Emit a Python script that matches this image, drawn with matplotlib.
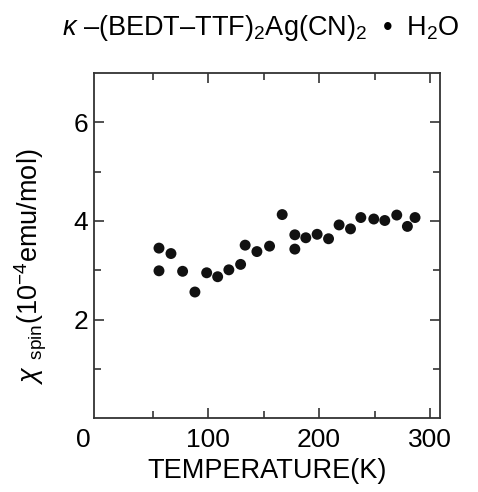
import matplotlib
matplotlib.use("Agg")
import matplotlib.pyplot as plt
from matplotlib.transforms import ScaledTranslation

plt.rcParams['font.family'] = ['Liberation Sans', 'DejaVu Sans']
plt.rcParams['mathtext.fontset'] = 'custom'
plt.rcParams['mathtext.rm'] = 'Liberation Sans'
plt.rcParams['mathtext.it'] = 'Liberation Sans:italic'
plt.rcParams['mathtext.bf'] = 'Liberation Sans:bold'

# Data
temperature = [55.6, 66.4, 55.6, 76.9, 88.0, 98.6, 108.5, 118.6, 129.2, 133.3,
               143.9, 155.3, 166.7, 178.1, 178.1, 188.0, 198.2, 208.5, 218.0,
               228.3, 237.6, 249.3, 259.2, 270.0, 279.6, 286.5]
chi_spin = [3.45, 3.34, 2.99, 2.98, 2.56, 2.95, 2.87, 3.01, 3.12, 3.51,
            3.38, 3.49, 4.13, 3.72, 3.43, 3.66, 3.73, 3.64, 3.92,
            3.84, 4.07, 4.04, 4.01, 4.12, 3.89, 4.07]

x_major = [0, 100, 200, 300]
x_minor = [50, 150, 250]
y_major = [2, 4, 6]
y_minor = [1, 3, 5]

fig = plt.figure(figsize=(4.78, 4.92), dpi=100)
ax = fig.add_axes([94/478, 1-418.3/492, (440-94)/478, (418.3-73)/492])

ax.scatter(temperature, chi_spin, s=62, color='#111111', edgecolors='none', zorder=3)

ax.set_xlim(-3, 309)
ax.set_ylim(0, 7)
ax.set_xticks(x_major)
ax.set_xticks(x_minor, minor=True)
ax.set_yticks(y_major)
ax.set_yticks(y_minor, minor=True)

for s in ax.spines.values():
    s.set_linewidth(1.3)
    s.set_color('#333333')

ax.tick_params(which='both', direction='in', top=True, right=True,
               color='#333333', width=1.2, labelsize=19)
ax.tick_params(which='major', length=7)
ax.tick_params(which='minor', length=5)
ax.tick_params(axis='x', pad=7)
ax.tick_params(axis='y', pad=4)

# hide tick mark at x=0 and shift the 0 label left
t0 = ax.xaxis.get_major_ticks()[0]
t0.tick1line.set_visible(False)
t0.tick2line.set_visible(False)
lbl = t0.label1
lbl.set_transform(lbl.get_transform() + ScaledTranslation(-14/100, 0, fig.dpi_scale_trans))

ax.set_xlabel('TEMPERATURE(K)', fontsize=19.5, labelpad=4)
ax.set_ylabel(r'$\chi$ $_{\mathrm{spin}}$(10$^{-4}$emu/mol)', fontsize=19.5)
ax.yaxis.set_label_coords(-0.13, 0.44)

fig.text(0.545, 1-28/492, r'$\mathit{\kappa}$ –(BEDT–TTF)$_2$Ag(CN)$_2$  •  H$_2$O',
         ha='center', va='center', fontsize=19.5)

fig.savefig('out.png', dpi=100)
